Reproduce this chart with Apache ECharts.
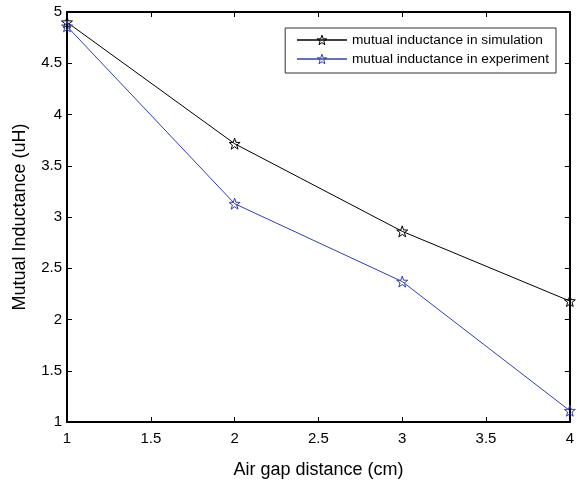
<!DOCTYPE html>
<html>
<head>
<meta charset="utf-8">
<script src="https://cdn.jsdelivr.net/npm/echarts@6/dist/echarts.min.js"></script>
<style>
  html, body { margin: 0; padding: 0; background: #fff; }
  #chart { width: 577px; height: 484px; }
</style>
</head>
<body>
<div id="chart"></div>
<script>
// data
var airGap = [1, 2, 3, 4];
var simulation = [4.90, 3.715, 2.86, 2.18];
var experiment = [4.86, 3.13, 2.37, 1.11];
var seriesNames = ['mutual inductance in simulation', 'mutual inductance in experiment'];
var seriesColors = ['#000000', '#3040b0'];

var STAR = 'path://M0,-10 L2.35,-3.24 L9.51,-3.09 L3.8,1.24 L5.88,8.09 L0,4 L-5.88,8.09 L-3.8,1.24 L-9.51,-3.09 L-2.35,-3.24 Z';
var FONT = 'Liberation Sans, Arial, sans-serif';
var HOLLOW = 'rgba(255,255,255,0)';

function pairs(xs, ys) {
  return xs.map(function (x, i) { return [x, ys[i]]; });
}

function makeSeries(name, data, color) {
  return {
    name: name,
    type: 'line',
    data: data,
    symbol: STAR,
    symbolSize: 11,
    showSymbol: true,
    animation: false,
    lineStyle: { color: color, width: 1 },
    itemStyle: { color: HOLLOW, borderColor: color, borderWidth: 1 },
    emphasis: { disabled: true }
  };
}

var axisLine = { show: true, lineStyle: { color: '#000', width: 2 } };
var axisTick = { show: true, inside: true, length: 5, lineStyle: { color: '#000', width: 1 } };

var chart = echarts.init(document.getElementById('chart'));
var option = {
  backgroundColor: '#fff',
  animation: false,
  grid: { left: 67, right: 7, top: 12, bottom: 61 },
  legend: {
    orient: 'vertical',
    right: 21,
    top: 28,
    data: seriesNames.map(function (n, i) {
      return {
        name: n,
        itemStyle: { color: HOLLOW, borderColor: seriesColors[i], borderWidth: 1 },
        lineStyle: { color: seriesColors[i], width: 1.5 }
      };
    }),
    itemWidth: 50,
    itemHeight: 12,
    itemGap: 5,
    padding: [5, 7, 7, 11],
    borderColor: '#333',
    borderWidth: 1,
    backgroundColor: '#fff',
    textStyle: { fontFamily: FONT, fontSize: 13.7, color: '#000' }
  },
  xAxis: [{
    type: 'value',
    min: 1, max: 4, interval: 0.5,
    name: 'Air gap distance (cm)',
    nameLocation: 'middle',
    nameGap: 39,
    nameTextStyle: { fontFamily: FONT, fontSize: 18, color: '#000' },
    axisLine: axisLine,
    axisTick: axisTick,
    axisLabel: { fontFamily: FONT, fontSize: 15, color: '#000', margin: 9 },
    splitLine: { show: false }
  }, {
    type: 'value',
    position: 'top',
    min: 1, max: 4, interval: 0.5,
    axisLine: axisLine,
    axisTick: axisTick,
    axisLabel: { show: false },
    splitLine: { show: false }
  }],
  yAxis: [{
    type: 'value',
    min: 1, max: 5, interval: 0.5,
    name: 'Mutual Inductance (uH)',
    nameLocation: 'middle',
    nameGap: 38,
    nameTextStyle: { fontFamily: FONT, fontSize: 18, color: '#000' },
    axisLine: axisLine,
    axisTick: axisTick,
    axisLabel: { fontFamily: FONT, fontSize: 15, color: '#000', margin: 5 },
    splitLine: { show: false }
  }, {
    type: 'value',
    position: 'right',
    min: 1, max: 5, interval: 0.5,
    axisLine: axisLine,
    axisTick: axisTick,
    axisLabel: { show: false },
    splitLine: { show: false }
  }],
  series: [
    makeSeries(seriesNames[0], pairs(airGap, simulation), seriesColors[0]),
    makeSeries(seriesNames[1], pairs(airGap, experiment), seriesColors[1])
  ]
};
chart.setOption(option);
</script>
</body>
</html>
